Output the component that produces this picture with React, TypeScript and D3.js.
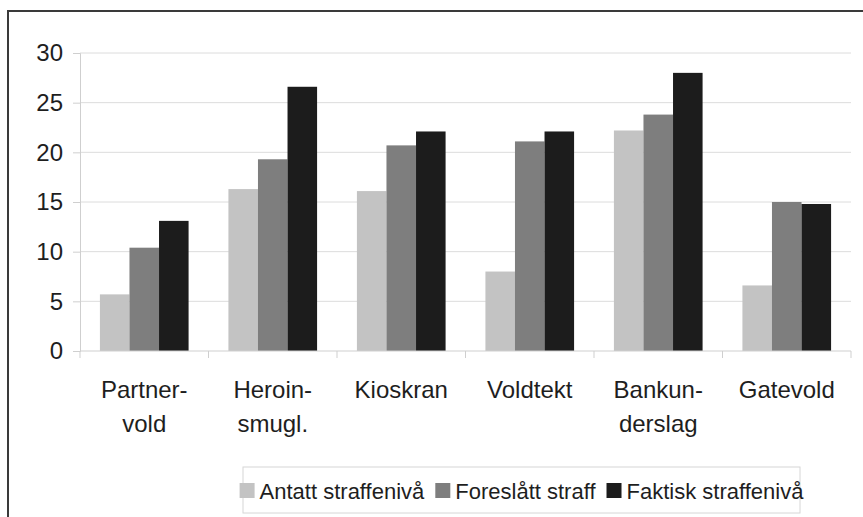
import React, { useEffect, useRef } from 'react'
import * as d3 from 'd3'

const categories = [
  ['Partner-', 'vold'],
  ['Heroin-', 'smugl.'],
  ['Kioskran'],
  ['Voldtekt'],
  ['Bankun-', 'derslag'],
  ['Gatevold'],
]
const seriesNames = ['Antatt straffenivå', 'Foreslått straff', 'Faktisk straffenivå']
const antatt = [5.7, 16.3, 16.1, 8.0, 22.2, 6.6]
const foreslatt = [10.4, 19.3, 20.7, 21.1, 23.8, 15.0]
const faktisk = [13.1, 26.6, 22.1, 22.1, 28.0, 14.8]
const yTicks = [0, 5, 10, 15, 20, 25, 30]
const colors = ['#c3c3c3', '#7e7e7e', '#1c1c1c']

export default function App() {
  const ref = useRef<SVGSVGElement>(null)

  useEffect(() => {
    const svg = d3.select(ref.current)
    svg.selectAll('*').remove()
    const font = "'Liberation Sans', Arial, sans-serif"

    const left = 80
    const right = 851
    const top = 53
    const bottom = 351

    svg.append('rect').attr('width', 863).attr('height', 517).attr('fill', '#fff')
    // outer frame
    svg
      .append('rect')
      .attr('x', 8)
      .attr('y', 11)
      .attr('width', 900)
      .attr('height', 600)
      .attr('fill', 'none')
      .attr('stroke', '#3a3a3a')
      .attr('stroke-width', 2)

    const x0 = d3.scaleBand().domain(d3.range(categories.length).map(String)).range([left, right])
    const bandInner = x0.bandwidth() * 0.69
    const x1 = d3
      .scaleBand()
      .domain(['0', '1', '2'])
      .range([(x0.bandwidth() - bandInner) / 2, (x0.bandwidth() + bandInner) / 2])
    const y = d3.scaleLinear().domain([0, 30]).range([bottom, top])

    // gridlines
    svg
      .append('g')
      .selectAll('line')
      .data(yTicks.slice(1))
      .join('line')
      .attr('x1', left)
      .attr('x2', right)
      .attr('y1', d => y(d))
      .attr('y2', d => y(d))
      .attr('stroke', '#dcdcdc')
      .attr('stroke-width', 1)

    // y axis
    const yAxis = svg.append('g').attr('transform', `translate(${left},0)`).call(d3.axisLeft(y).tickValues(yTicks).tickSize(7).tickPadding(10))
    yAxis.select('.domain').attr('stroke', '#cfcfcf')
    yAxis.selectAll('.tick line').attr('stroke', '#cfcfcf')
    yAxis.selectAll('.tick text').attr('font-family', font).attr('font-size', 24).attr('fill', '#1e1e1e')

    // bars
    const series = [antatt, foreslatt, faktisk]
    series.forEach((vals, s) => {
      svg
        .append('g')
        .selectAll('rect')
        .data(vals)
        .join('rect')
        .attr('x', (_, i) => (x0(String(i)) as number) + (x1(String(s)) as number))
        .attr('y', d => y(d))
        .attr('width', x1.bandwidth())
        .attr('height', d => y(0) - y(d))
        .attr('fill', colors[s])
    })

    // x axis
    svg
      .append('line')
      .attr('x1', left)
      .attr('x2', right)
      .attr('y1', bottom)
      .attr('y2', bottom)
      .attr('stroke', '#cfcfcf')
    svg
      .append('g')
      .selectAll('line')
      .data(d3.range(categories.length + 1))
      .join('line')
      .attr('x1', i => left + i * x0.step())
      .attr('x2', i => left + i * x0.step())
      .attr('y1', bottom)
      .attr('y2', bottom + 7)
      .attr('stroke', '#cfcfcf')

    categories.forEach((lines, i) => {
      const cx = (x0(String(i)) as number) + x0.bandwidth() / 2
      const t = svg
        .append('text')
        .attr('text-anchor', 'middle')
        .attr('font-family', font)
        .attr('font-size', 24)
        .attr('fill', '#1e1e1e')
      lines.forEach((ln, j) => {
        t.append('tspan').attr('x', cx).attr('y', 398 + j * 34).text(ln)
      })
    })

    // legend
    const lx0 = 243
    const lx1 = 800
    svg
      .append('rect')
      .attr('x', lx0)
      .attr('y', 467)
      .attr('width', lx1 - lx0)
      .attr('height', 46)
      .attr('fill', '#fff')
      .attr('stroke', '#d6d6d6')
    const lg = svg.append('g')
    let cx = 0
    seriesNames.forEach((name, s) => {
      lg.append('rect').attr('x', cx).attr('y', 483).attr('width', 15).attr('height', 15).attr('fill', colors[s])
      const t = lg
        .append('text')
        .attr('x', cx + 20)
        .attr('y', 499)
        .attr('font-family', font)
        .attr('font-size', 22)
        .attr('fill', '#1e1e1e')
        .text(name)
      const w = (t.node() as SVGTextElement).getComputedTextLength()
      cx += 20 + w + 11
    })
    const total = cx - 11
    lg.attr('transform', `translate(${(lx0 + lx1) / 2 - total / 2},0)`)
  }, [])

  return (
    <svg ref={ref} width={863} height={517} style={{ display: 'block', position: 'absolute', left: 0, top: 0 }}></svg>
  )
}
